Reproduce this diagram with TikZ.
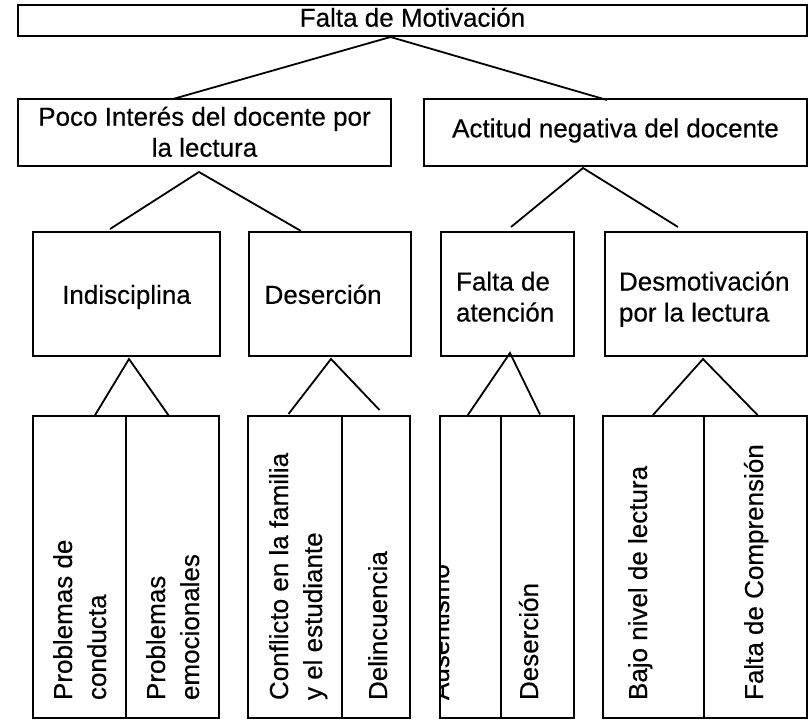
\documentclass[tikz,border=0pt]{standalone}
\usepackage{fontspec}
\setmainfont{Liberation Sans}
\newfontfamily\rfont{Liberation Sans}[FakeBold=0.4]
\newcommand\mkbox[5]{\node[box, minimum width=#4pt-#2pt, minimum height=#5pt-#3pt] (#1) at (#2,#3) {};}
\begin{document}
\begin{tikzpicture}[x=1pt,y=-1pt,
  box/.style={draw, line width=1.8pt, inner sep=0pt, outer sep=0pt, anchor=north west},
  txt/.style={font=\rfont\fontsize{26}{31}\selectfont, inner sep=0pt, outer sep=0pt},
  vtxt/.style={font=\rfont\fontsize{26}{34}\selectfont, inner sep=0pt, outer sep=0pt, rotate=90, align=left},
  link/.style={line width=1.8pt}]
\useasboundingbox (0,0) rectangle (809,720);
% boxes
\mkbox{top}{18}{5}{807}{36}
\mkbox{poco}{18}{99}{391}{166}
\mkbox{acti}{424}{99}{807}{166}
\mkbox{indi}{33}{232}{220}{356}
\mkbox{dese}{249}{232}{411}{356}
\mkbox{fala}{441}{232}{574}{356}
\mkbox{desm}{605}{232}{807}{356}
\mkbox{ba}{33}{416}{126}{718}
\mkbox{bb}{126}{416}{219}{718}
\mkbox{ca}{248}{416}{342}{718}
\mkbox{cb}{342}{416}{410}{718}
\mkbox{da}{440}{416}{501}{718}
\mkbox{db}{501}{416}{574}{718}
\mkbox{ea}{603}{416}{704}{718}
\mkbox{eb}{704}{416}{807}{718}
% horizontal texts
\node[txt, anchor=base] (ttop) at (412.5,26.7) {Falta de Motivación};
\node[txt, anchor=north, align=center] (tpoco) at (204.5,104) {\strut Poco Interés del docente por\\\strut la lectura};
\node[txt, anchor=base] (tacti) at (615.5,137.3) {Actitud negativa del docente};
\node[txt, anchor=base] (tindi) at (126.5,303.8) {Indisciplina};
\node[txt, anchor=base west] (tdese) at (264.6,303.8) {Deserción};
\node[txt, anchor=north west, align=left] (tfala) at (456,268.8) {\strut Falta de\\\strut atención};
\node[txt, anchor=north west, align=left] (tdesm) at (619,268.8) {\strut Desmotivación\\\strut por la lectura};
% vertical texts
\node[vtxt, anchor=north west] (tba) at (48.2,700) {\strut Problemas de\\\strut conducta};
\node[vtxt, anchor=north west] (tbb) at (141.2,700) {\strut Problemas\\\strut emocionales};
\node[vtxt, anchor=north west] (tca) at (264.2,700) {\strut Conflicto en la familia\\\strut y el estudiante};
\node[vtxt, anchor=base west] (tcb) at (387,700) {Delincuencia};
\begin{scope}
\clip (da.north west) rectangle (da.south east);
\node[vtxt, anchor=base west] (tda) at (449,700) {Ausentismo};
\end{scope}
\node[vtxt, anchor=base west] (tdb) at (538,700) {Deserción};
\node[vtxt, anchor=base west] (tea) at (647,700) {Bajo nivel de lectura};
\node[vtxt, anchor=base west] (teb) at (763,700) {Falta de Comprensión};
% connector points
\coordinate (a0) at (390.5,37);
\coordinate (a0l) at (173,99);
\coordinate (a0r) at (607,100);
\coordinate (a1) at (199,172);
\coordinate (a1l) at (110,229);
\coordinate (a1r) at (301,231);
\coordinate (a2) at (583,168);
\coordinate (a2l) at (511,227);
\coordinate (a2r) at (678,227);
\coordinate (a3) at (129,359);
\coordinate (a3l) at (94.5,416);
\coordinate (a3r) at (169,416);
\coordinate (a4) at (331,359);
\coordinate (a4l) at (288.5,414);
\coordinate (a4r) at (379.5,410);
\coordinate (a5) at (510,353);
\coordinate (a5l) at (466.7,416.7);
\coordinate (a5r) at (540,414.5);
\coordinate (a6) at (703,359);
\coordinate (a6l) at (653,415);
\coordinate (a6r) at (757.5,415);
% connectors
\draw[link] (a0l) -- (a0) -- (a0r);
\draw[link] (a1l) -- (a1) -- (a1r);
\draw[link] (a2l) -- (a2) -- (a2r);
\draw[link] (a3l) -- (a3) -- (a3r);
\draw[link] (a4l) -- (a4) -- (a4r);
\draw[link] (a5l) -- (a5) -- (a5r);
\draw[link] (a6l) -- (a6) -- (a6r);
\end{tikzpicture}
\end{document}
